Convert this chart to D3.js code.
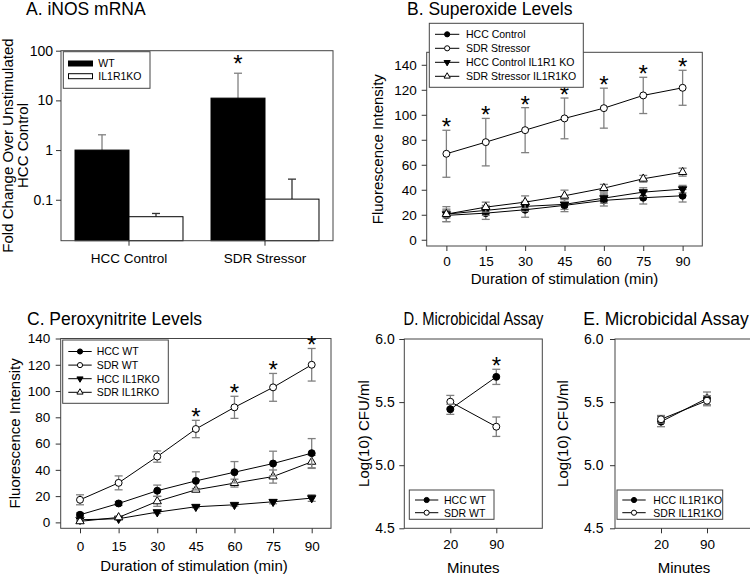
<!DOCTYPE html>
<html>
<head>
<meta charset="utf-8">
<script src="https://cdn.jsdelivr.net/npm/d3@7"></script>
<style>
  body { margin: 0; background: #fff; }
  svg { display: block; }
</style>
</head>
<body>
<svg id="fig" width="750" height="577"></svg>
<script>
const FONT = '"Liberation Sans", Arial, Helvetica, sans-serif'

// A. iNOS mRNA (fold change, log axis)
const groupsA = ['HCC Control', 'SDR Stressor']
const genotypesA = ['WT', 'IL1R1KO']
const inosWT = [1.0, 11.1]
const inosWTErr = [1.03, 24.1]
const inosKO = [0.0456, 0.103]
const inosKOErr = [0.0074, 0.157]
const ticksA = [0.1, 1, 10, 100]

// B. Superoxide levels
const minutes = [0, 15, 30, 45, 60, 75, 90]
const supHcc = [19.5, 21.3, 24.0, 27.5, 31.5, 33.6, 35.2]
const supHccErr = [5, 5, 6, 5, 4.5, 5, 5]
const supSdr = [68.8, 78.1, 87.7, 97.1, 105.3, 115.5, 121.6]
const supSdrErr = [18.8, 19, 18, 16.3, 16, 14.5, 14]
const supHccKO = [20.5, 23.5, 26.7, 28.3, 33.3, 38.1, 40.5]
const supHccKOErr = [6, 4, 4, 4, 4, 3.5, 3]
const supSdrKO = [20.5, 26.1, 30.1, 35.2, 41.3, 48.8, 54.1]
const supSdrKOErr = [3, 4, 5, 4.5, 3, 2.7, 3.2]
const supStars = [0, 1, 2, 3, 4, 5, 6]
const ticksB = [0, 20, 40, 60, 80, 100, 120, 140]

// C. Peroxynitrite levels
const perHcc = [5.8, 14.4, 24.1, 31.6, 38.2, 44.8, 52.7]
const perHccErr = [1.5, 1.5, 4.3, 6.9, 8.1, 9.4, 11.1]
const perSdr = [17.2, 30.1, 50.1, 71.1, 87.6, 102.8, 120]
const perSdrErr = [3.8, 5.3, 4.3, 6.6, 8.4, 10.6, 12.4]
const perHccKO = [2.0, 2.8, 7.8, 11.9, 13.4, 15.7, 18.5]
const perHccKOErr = [1, 0.8, 1, 0.8, 1, 1.5, 2.5]
const perSdrKO = [0.8, 3.8, 16, 24.8, 29.9, 34.9, 46.1]
const perSdrKOErr = [1, 1, 3.8, 1, 3, 5, 5]
const perStars = [3, 4, 5, 6]

// D / E. Microbicidal assay
const assayMin = [20, 90]
const micHccWT = [5.443, 5.70]
const micHccWTErr = [0.04, 0.06]
const micSdrWT = [5.503, 5.305]
const micSdrWTErr = [0.05, 0.077]
const micHccKO = [5.345, 5.53]
const micHccKOErr = [0.04, 0.05]
const micSdrKO = [5.364, 5.511]
const micSdrKOErr = [0.03, 0.04]
const micStars = [1]
const ticksMic = [4.5, 5.0, 5.5, 6.0]

const svg = d3.select('#fig').style('font-family', FONT)

function styleAxis(sel, fs) {
  sel.select('.domain').remove()
  sel.selectAll('.tick line').attr('stroke', '#333')
  sel.selectAll('.tick text').attr('fill', '#000').attr('font-size', fs).attr('font-family', FONT)
}

function frame(g, b) {
  g.append('rect').attr('x', b[0]).attr('y', b[1]).attr('width', b[2] - b[0]).attr('height', b[3] - b[1])
    .attr('fill', 'none').attr('stroke', '#444').attr('stroke-width', 1)
}

function text(g, x, y, str, fs, anchor, rotate) {
  const t = g.append('text').attr('font-size', fs).attr('fill', '#000')
    .attr('text-anchor', anchor || 'start').text(str)
  if (rotate) t.attr('transform', `translate(${x},${y}) rotate(-90)`)
  else t.attr('x', x).attr('y', y)
  return t
}

// fc = filled circle, oc = open circle, ft = filled down triangle, ot = open up triangle
function marker(g, type, x, y, scale = 1) {
  const isCircle = type[1] === 'c'
  g.append('path')
    .attr('d', d3.symbol(isCircle ? d3.symbolCircle : d3.symbolTriangle, (isCircle ? 38 : 30) * scale)())
    .attr('transform', `translate(${x},${y})${type === 'ft' ? ' rotate(180)' : ''}`)
    .attr('fill', type[0] === 'f' ? '#000' : '#fff')
    .attr('stroke', '#000').attr('stroke-width', 1)
}

function legend(g, b, rows, o) {
  g.append('rect').attr('x', b[0]).attr('y', b[1]).attr('width', b[2] - b[0]).attr('height', b[3] - b[1])
    .attr('fill', '#fff').attr('stroke', '#444')
  rows.forEach((r, i) => {
    const cy = b[1] + o.first + i * o.step
    g.append('line').attr('x1', o.line[0]).attr('x2', o.line[1]).attr('y1', cy).attr('y2', cy)
      .attr('stroke', '#000')
    marker(g, r.sym, (o.line[0] + o.line[1]) / 2, cy, 0.55)
    text(g, o.textX, cy + 3.8, r.label, 10.5)
  })
}

function linePanel(p) {
  const g = svg.append('g')
  const b = p.box
  const x = p.x, y = p.y
  frame(g, b)
  styleAxis(g.append('g').attr('transform', `translate(0,${b[3]})`)
    .call(d3.axisBottom(x).tickValues(p.xTicks).tickSize(5).tickPadding(p.xPad)), 13.5)
  styleAxis(g.append('g').attr('transform', `translate(${b[0]},0)`)
    .call(d3.axisLeft(y).tickValues(p.yTicks).tickSize(5).tickPadding(p.yPad).tickFormat(p.yFmt)), p.yFont)

  p.series.forEach(s => {
    const pts = p.xs.map((xv, i) => [x(xv), y(s.values[i]), y(s.values[i] - s.errs[i]), y(s.values[i] + s.errs[i])])
    const eb = g.append('g').attr('stroke', '#808080').attr('stroke-width', 1.3)
    pts.forEach(([px, , lo, hi]) => {
      eb.append('line').attr('x1', px).attr('x2', px).attr('y1', lo).attr('y2', hi)
      eb.append('line').attr('x1', px - 4).attr('x2', px + 4).attr('y1', lo).attr('y2', lo)
      eb.append('line').attr('x1', px - 4).attr('x2', px + 4).attr('y1', hi).attr('y2', hi)
    })
    g.append('path').attr('d', d3.line()(pts.map(d => [d[0], d[1]])))
      .attr('fill', 'none').attr('stroke', '#000').attr('stroke-width', 1)
    pts.forEach(d => marker(g, s.sym, d[0], d[1]))
    if (s.stars) s.stars.forEach(i => {
      text(g, pts[i][0], pts[i][3] + 5, '*', 24, 'middle')
    })
  })
  return g
}

// ---------- Panel A ----------
{
  const g = svg.append('g')
  const b = [61, 50.7, 333, 240.7]
  const x = d3.scaleBand().domain(groupsA).range([b[0], b[2]]).paddingInner(0.206).paddingOuter(0.103)
  const x1 = d3.scaleBand().domain(genotypesA).range([0, x.bandwidth()])
  const y = d3.scaleLog().domain([0.015, 100]).range([b[3], b[1]])
  const sets = [
    { key: 'WT', vals: inosWT, errs: inosWTErr, fill: '#000', err: '#808080' },
    { key: 'IL1R1KO', vals: inosKO, errs: inosKOErr, fill: '#fff', err: '#333' }
  ]
  sets.forEach(s => {
    groupsA.forEach((grp, i) => {
      const bx = x(grp) + x1(s.key)
      const cx = bx + x1.bandwidth() / 2
      g.append('line').attr('x1', cx).attr('x2', cx).attr('y1', y(s.vals[i])).attr('y2', y(s.vals[i] + s.errs[i]))
        .attr('stroke', s.err).attr('stroke-width', 1.3)
      g.append('line').attr('x1', cx - 4).attr('x2', cx + 4)
        .attr('y1', y(s.vals[i] + s.errs[i])).attr('y2', y(s.vals[i] + s.errs[i]))
        .attr('stroke', s.err).attr('stroke-width', 1.3)
      g.append('rect').attr('x', bx).attr('y', y(s.vals[i])).attr('width', x1.bandwidth())
        .attr('height', b[3] - y(s.vals[i])).attr('fill', s.fill).attr('stroke', '#000').attr('stroke-width', 1)
    })
  })
  // significance above SDR WT
  const si = 1
  text(g, x(groupsA[si]) + x1('WT') + x1.bandwidth() / 2, y(inosWT[si] + inosWTErr[si]) - 1, '*', 24, 'middle')

  frame(g, b)
  styleAxis(g.append('g').attr('transform', `translate(0,${b[3]})`)
    .call(d3.axisBottom(x).tickSize(5).tickPadding(8)), 13.5)
  styleAxis(g.append('g').attr('transform', `translate(${b[0]},0)`)
    .call(d3.axisLeft(y).tickValues(ticksA).tickSize(5).tickPadding(3).tickFormat(d => String(d))), 14)

  // legend
  g.append('rect').attr('x', 63.3).attr('y', 51.7).attr('width', 86.7).attr('height', 36.6)
    .attr('fill', '#fff').attr('stroke', '#444')
  sets.forEach((s, i) => {
    const cy = 63.5 + i * 12.7
    g.append('rect').attr('x', 68.5).attr('y', cy - 2.5).attr('width', 24).attr('height', 5)
      .attr('fill', s.fill).attr('stroke', '#000')
    text(g, 98.3, cy + 3.8, s.key, 10.5)
  })

  text(svg, 26, 15, 'A. iNOS mRNA', 17.5)
  text(svg, 13, 145.5, 'Fold Change Over Unstimulated', 15, 'middle', true)
  text(svg, 27.5, 145.5, 'HCC Control', 15, 'middle', true)
}

// ---------- Panel B ----------
{
  const box = [426.7, 52.3, 702.3, 246]
  const g = linePanel({
    box,
    x: d3.scaleLinear().domain([-7.5, 97.5]).range([box[0], box[2]]),
    y: d3.scaleLinear().domain([-5, 150]).range([box[3], box[1]]),
    xs: minutes, xTicks: minutes, xPad: 5,
    yTicks: ticksB, yPad: 5, yFont: 13.5, yFmt: d3.format('d'),
    series: [
      { values: supHcc, errs: supHccErr, sym: 'fc' },
      { values: supHccKO, errs: supHccKOErr, sym: 'ft' },
      { values: supSdrKO, errs: supSdrKOErr, sym: 'ot' },
      { values: supSdr, errs: supSdrErr, sym: 'oc', stars: supStars }
    ]
  })
  legend(g, [429.3, 23.3, 583.3, 87.3], [
    { label: 'HCC Control', sym: 'fc' },
    { label: 'SDR Stressor', sym: 'oc' },
    { label: 'HCC Control IL1R1 KO', sym: 'ft' },
    { label: 'SDR Stressor IL1R1KO', sym: 'ot' }
  ], { first: 11, step: 14, line: [435, 459.3], textX: 466 })
  text(svg, 407, 15, 'B. Superoxide Levels', 17.5)
  text(svg, 383, 149.2, 'Fluorescence Intensity', 15, 'middle', true)
  text(svg, 564.5, 284, 'Duration of stimulation (min)', 15, 'middle')
}

// ---------- Panel C ----------
{
  const box = [60.7, 338.5, 331, 528.3]
  const g = linePanel({
    box,
    x: d3.scaleLinear().domain([-7.5, 97.5]).range([box[0], box[2]]),
    y: d3.scaleLinear().domain([-4.5, 140]).range([box[3], box[1]]),
    xs: minutes, xTicks: minutes, xPad: 8.5,
    yTicks: ticksB, yPad: 5.5, yFont: 13.5, yFmt: d3.format('d'),
    series: [
      { values: perHccKO, errs: perHccKOErr, sym: 'ft' },
      { values: perSdrKO, errs: perSdrKOErr, sym: 'ot' },
      { values: perHcc, errs: perHccErr, sym: 'fc' },
      { values: perSdr, errs: perSdrErr, sym: 'oc', stars: perStars }
    ]
  })
  legend(g, [62.7, 340, 168.3, 403.3], [
    { label: 'HCC WT', sym: 'fc' },
    { label: 'SDR WT', sym: 'oc' },
    { label: 'HCC IL1RKO', sym: 'ft' },
    { label: 'SDR IL1RKO', sym: 'ot' }
  ], { first: 11.5, step: 13.6, line: [68.3, 91.7], textX: 96.7 })
  text(svg, 27, 324.5, 'C. Peroxynitrite Levels', 17.5)
  text(svg, 20, 433.4, 'Fluorescence Intensity', 15, 'middle', true)
  text(svg, 194, 570.5, 'Duration of stimulation (min)', 15, 'middle')
}

// ---------- Panel D ----------
{
  const box = [404.3, 339, 542.3, 528.3]
  const g = linePanel({
    box,
    x: d3.scalePoint().domain(assayMin).range([box[0], box[2]]).padding(1),
    y: d3.scaleLinear().domain([4.5, 6.0]).range([box[3], box[1]]),
    xs: assayMin, xTicks: assayMin, xPad: 6,
    yTicks: ticksMic, yPad: 4.5, yFont: 14, yFmt: d3.format('.1f'),
    series: [
      { values: micSdrWT, errs: micSdrWTErr, sym: 'oc' },
      { values: micHccWT, errs: micHccWTErr, sym: 'fc', stars: micStars }
    ]
  })
  legend(g, [409.3, 490, 494, 519.3], [
    { label: 'HCC WT', sym: 'fc' },
    { label: 'SDR WT', sym: 'oc' }
  ], { first: 10, step: 12.7, line: [415, 438.3], textX: 444 })
  text(svg, 403.5, 325, 'D. Microbicidal Assay', 17.5)
    .attr('textLength', 140).attr('lengthAdjust', 'spacingAndGlyphs')
  text(svg, 368.5, 433.6, 'Log(10) CFU/ml', 15, 'middle', true)
  text(svg, 473.3, 573, 'Minutes', 15, 'middle')
}

// ---------- Panel E ----------
{
  const box = [615, 339, 753, 528.3]
  const g = linePanel({
    box,
    x: d3.scalePoint().domain(assayMin).range([box[0], box[2]]).padding(1),
    y: d3.scaleLinear().domain([4.5, 6.0]).range([box[3], box[1]]),
    xs: assayMin, xTicks: assayMin, xPad: 6,
    yTicks: ticksMic, yPad: 6.5, yFont: 14, yFmt: d3.format('.1f'),
    series: [
      { values: micHccKO, errs: micHccKOErr, sym: 'fc' },
      { values: micSdrKO, errs: micSdrKOErr, sym: 'oc' }
    ]
  })
  legend(g, [617, 490, 722.7, 519.3], [
    { label: 'HCC IL1R1KO', sym: 'fc' },
    { label: 'SDR IL1R1KO', sym: 'oc' }
  ], { first: 10, step: 12.7, line: [622.3, 645.7], textX: 653.3 })
  text(svg, 583.3, 325, 'E. Microbicidal Assay', 17.5)
  text(svg, 568, 433.6, 'Log(10) CFU/ml', 15, 'middle', true)
  text(svg, 684, 573, 'Minutes', 15, 'middle')
}
</script>
</body>
</html>
